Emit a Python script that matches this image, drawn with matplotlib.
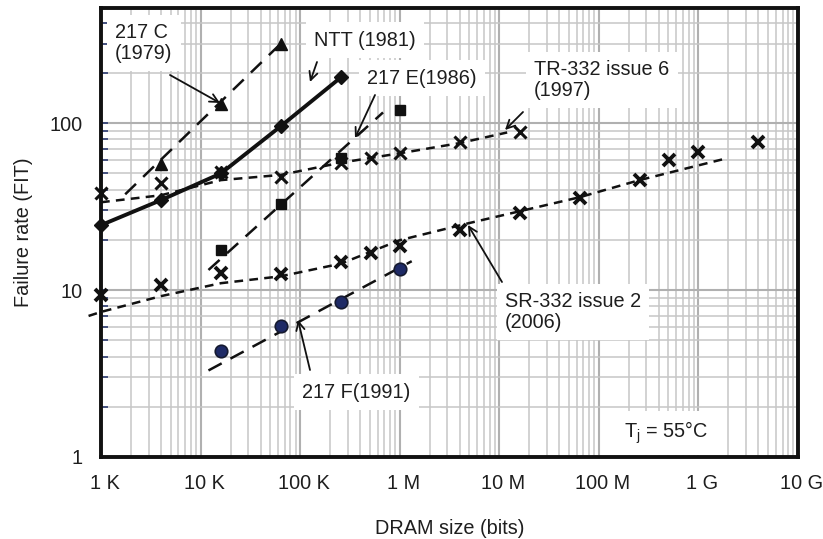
import matplotlib
matplotlib.use('Agg')
import matplotlib.pyplot as plt
from matplotlib.ticker import LogLocator, NullFormatter
from matplotlib.transforms import ScaledTranslation

plt.rcParams['font.family'] = ['Liberation Sans', 'DejaVu Sans']

# ---------------- data ----------------
x_217C = [4e3, 16e3, 64e3]
y_217C = [57, 130, 300]
fit_217C_x = [1.75e3, 64e3]
fit_217C_y = [37.5, 300]

x_NTT = [1e3, 4e3, 16e3, 64e3, 256e3]
y_NTT = [24.5, 34.6, 50, 96, 188]

x_217E = [16e3, 64e3, 256e3, 1e6]
y_217E = [17.4, 32.7, 61.7, 120]
fit_217E_x = [12e3, 680e3]
fit_217E_y = [13.2, 116]

x_TR = [1e3, 4e3, 16e3, 64e3, 256e3, 512e3, 1e6, 4e6, 16e6]
y_TR = [38, 43.7, 51, 47.5, 57.6, 61.7, 66, 77, 88.5]
fit_TR_x = [1e3, 4e3, 16e3, 64e3, 256e3, 1e6, 4e6, 12e6]
fit_TR_y = [33.6, 37, 45.6, 49, 58, 66, 76, 88]

x_SR = [1e3, 4e3, 16e3, 64e3, 256e3, 512e3, 1e6, 4e6, 16e6, 64e6, 256e6, 512e6, 1e9, 4e9]
y_SR = [9.4, 10.7, 12.7, 12.5, 14.8, 16.7, 18.3, 22.9, 28.8, 35.4, 45.6, 60, 67.3, 77.3]
fit_SR_x = [0.75e3, 1e3, 4e3, 16e3, 64e3, 256e3, 1e6, 4.7e6, 64e6, 256e6, 1.9e9]
fit_SR_y = [7.0, 7.4, 9.2, 11, 12.1, 14.4, 19.9, 25, 36, 45.6, 61.5]

x_217F = [16e3, 64e3, 256e3, 1e6]
y_217F = [4.3, 6.1, 8.5, 13.4]
fit_217F_x = [12e3, 1.32e6]
fit_217F_y = [3.3, 14.9]

xtick_vals = [1e3, 1e4, 1e5, 1e6, 1e7, 1e8, 1e9, 1e10]
xtick_labels = ['1 K', '10 K', '100 K', '1 M', '10 M', '100 M', '1 G', '10 G']
ytick_vals = [1, 10, 100]
ytick_labels = ['1', '10', '100']

# ---------------- figure ----------------
W, H = 823, 539
fig = plt.figure(figsize=(W / 100, H / 100), dpi=100)
L, R, T, B = 101, 798, 8, 457
ax = fig.add_axes([L / W, 1 - B / H, (R - L) / W, (B - T) / H])
ax.set_xscale('log')
ax.set_yscale('log')
ax.set_xlim(1e3, 1e10)
ax.set_ylim(1, 490)

FS = 14.3
TC = '#1e1e1e'

ax.set_axisbelow(True)
ax.xaxis.set_minor_locator(LogLocator(base=10, subs=range(2, 10), numticks=20))
ax.yaxis.set_minor_locator(LogLocator(base=10, subs=range(2, 10), numticks=20))
ax.xaxis.set_minor_formatter(NullFormatter())
ax.yaxis.set_minor_formatter(NullFormatter())
ax.grid(which='major', color='#b0b0b0', lw=1.5)
ax.grid(which='minor', color='#c6c6c6', lw=1.1)

ax.set_xticks(xtick_vals, xtick_labels)
ax.set_yticks(ytick_vals, ytick_labels)
ax.tick_params(axis='x', which='both', length=0, pad=12, labelsize=FS, labelcolor=TC)
ax.tick_params(axis='y', which='both', direction='in', length=5, width=1.2,
               color='#2b3a70', pad=13, labelsize=FS, labelcolor=TC)
for lab in ax.get_xticklabels():
    lab.set_transform(lab.get_transform() + ScaledTranslation(4 / 100, 0, fig.dpi_scale_trans))

for s in ax.spines.values():
    s.set_linewidth(2.8)
    s.set_color('#111111')

ax.set_xlabel('DRAM size (bits)', fontsize=FS, color=TC, labelpad=19)
ax.set_ylabel('Failure rate (FIT)', fontsize=FS, color=TC, labelpad=12)

# ---------------- series ----------------
k = '#111111'
ax.plot(fit_217C_x, fit_217C_y, color=k, lw=1.8, dashes=(6, 4), zorder=4)
ax.plot(x_217C, y_217C, ls='none', marker='^', ms=8, color=k, zorder=6)

ax.plot(x_NTT, y_NTT, color=k, lw=2.8, marker='D', ms=7, zorder=6, clip_on=False)

ax.plot(fit_217E_x, fit_217E_y, color=k, lw=1.8, dashes=(6, 4), zorder=4)
ax.plot(x_217E, y_217E, ls='none', marker='s', ms=7, color=k, zorder=6)

ax.plot(fit_TR_x, fit_TR_y, color=k, lw=1.8, dashes=(3.5, 2.5), zorder=4)
ax.plot(x_TR, y_TR, ls='none', marker='x', ms=9, mew=2.2, color=k, zorder=6, clip_on=False)

ax.plot(fit_SR_x, fit_SR_y, color=k, lw=1.8, dashes=(3.5, 2.5), zorder=4, clip_on=False)
ax.plot(x_SR, y_SR, ls='none', marker='x', ms=9, mew=2.8, color=k, zorder=6, clip_on=False)

ax.plot(fit_217F_x, fit_217F_y, color=k, lw=1.8, dashes=(6, 4), zorder=4)
ax.plot(x_217F, y_217F, ls='none', marker='o', ms=9, mfc='#1e2a66', mec='#151a30', mew=1.2, zorder=6)

# ---------------- annotations ----------------
def pa(px, py):
    return ((px - L) / (R - L), (B - py) / (B - T))

box = dict(fc='white', ec='none', pad=6)
labels = [
    ('217 C\n(1979)', 115, 43),
    ('NTT (1981)', 314, 40),
    ('217 E(1986)', 367, 78),
    ('TR-332 issue 6\n(1997)', 534, 80),
    ('SR-332 issue 2\n(2006)', 505, 312),
    ('217 F(1991)', 302, 392),
    ('T$_\\mathregular{j}$ = 55°C', 624, 433),
]
for txt, px, py in labels:
    ax.text(*pa(px, py), txt, transform=ax.transAxes, ha='left', va='center',
            fontsize=FS, color=TC, linespacing=1.12, bbox=box, zorder=3)

arrows = [
    ((170, 75), (220, 103)),
    ((317, 62), (310, 82)),
    ((375, 95), (355, 138)),
    ((523, 112), (505, 130)),
    ((502, 282), (468, 225)),
    ((310, 370), (298, 320)),
]
for tail, tip in arrows:
    ax.annotate('', xy=pa(*tip), xytext=pa(*tail), xycoords='axes fraction',
                textcoords='axes fraction',
                arrowprops=dict(arrowstyle='->', lw=1.3, color=k, mutation_scale=15,
                                shrinkA=0, shrinkB=0), zorder=7)

fig.savefig('out.png', dpi=100)
